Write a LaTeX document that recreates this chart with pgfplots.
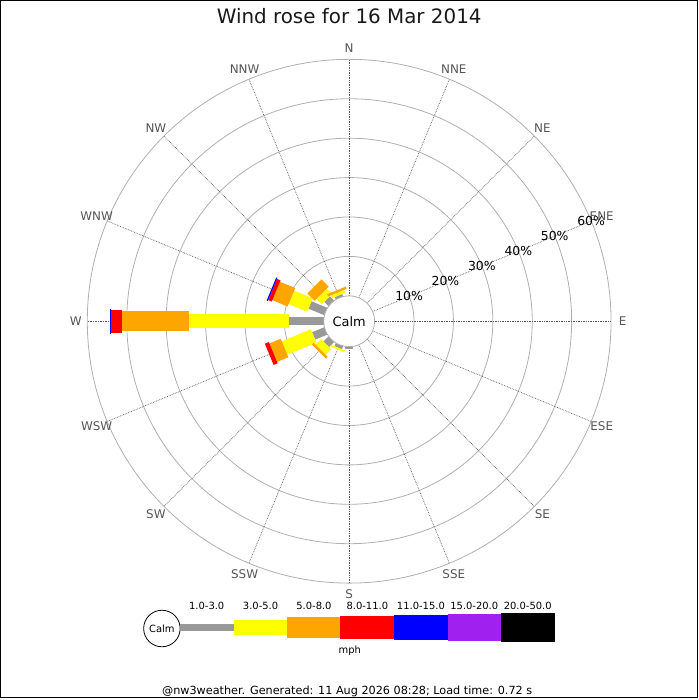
\documentclass[border=0pt]{standalone}
\usepackage{pgfplots}
\pgfplotsset{compat=1.18}
\usepackage{pgfplotstable}
\usepackage{fontspec}
\setmainfont{DejaVu Sans}
\definecolor{cgray}{RGB}{153,153,153}
\definecolor{cyellow}{RGB}{255,255,0}
\definecolor{corange}{RGB}{255,165,0}
\definecolor{cred}{RGB}{255,0,0}
\definecolor{cblue}{RGB}{0,0,255}
\definecolor{cpurple}{RGB}{160,32,240}
\definecolor{ringc}{RGB}{175,175,175}
\definecolor{labc}{RGB}{85,85,85}

% bearing (deg from N, clockwise), cumulative percent start/end
\pgfplotstableread{
b lo hi
180 0 0.7
202.5 0 0.8
225 0 1.8
247.5 0 3.3
270 0 8.7
292.5 0 4.3
315 0 1.5
337.5 0 0.6
}\tgray
\pgfplotstableread{
b lo hi
202.5 0.8 1.3
225 1.8 3.8
247.5 3.3 11.3
270 8.7 34.2
292.5 4.3 9.4
315 1.5 3.4
337.5 0.6 1.4
}\tyellow
\pgfplotstableread{
b lo hi
225 3.8 4.4
247.5 11.3 14.4
270 34.2 51.2
292.5 9.4 13.6
315 3.4 6.0
337.5 1.4 2.0
}\torange
\pgfplotstableread{
b lo hi
247.5 14.4 15.5
270 51.2 54.0
292.5 13.6 14.6
}\tred
\pgfplotstableread{
b lo hi
270 54.0 54.3
292.5 14.6 14.9
}\tblue

\pgfplotsset{
  seg/.style={
    -, mark=none,
    quiver={
      u={3.95*(\thisrow{hi}-\thisrow{lo})*sin(\thisrow{b})},
      v={3.95*(\thisrow{hi}-\thisrow{lo})*cos(\thisrow{b})},
    },
  },
}
\newcommand\segplot[3]{%
  \addplot[seg, draw=#1, line width=#2]
    table[x expr={(25.5+3.95*\thisrow{lo})*sin(\thisrow{b})},
          y expr={(25.5+3.95*\thisrow{lo})*cos(\thisrow{b})}] {#3};}
\newcommand\dirline[1]{\draw[black!65, densely dotted, line width=0.7bp] (axis cs:0,0) ++(90-#1:25.5bp) -- ++(90-#1:237bp);}
\newcommand\dirlab[2]{\node[labc, font=\fontsize{12}{14}\selectfont] at (axis cs:{274*sin(#1)},{274*cos(#1)}) {#2};}
\newcommand\pctlab[2]{\node[black, font=\fontsize{12.5}{14}\selectfont] at (axis cs:{#1*0.92388},{#1*0.38268}) {#2};}

\begin{document}
\begin{tikzpicture}
\begin{axis}[
  hide axis,
  scale only axis,
  x=1bp, y=1bp,
  xmin=-350, xmax=350, ymin=-378, ymax=322,
  clip=false,
]
% rings
\draw[ringc, line width=0.8bp] (axis cs:0,0) circle[radius=65bp];
\draw[ringc, line width=0.8bp] (axis cs:0,0) circle[radius=104.5bp];
\draw[ringc, line width=0.8bp] (axis cs:0,0) circle[radius=144bp];
\draw[ringc, line width=0.8bp] (axis cs:0,0) circle[radius=183.5bp];
\draw[ringc, line width=0.8bp] (axis cs:0,0) circle[radius=223bp];
\draw[ringc, line width=0.8bp] (axis cs:0,0) circle[radius=262.5bp];
% direction lines
\dirline{0}\dirline{22.5}\dirline{45}\dirline{67.5}
\dirline{90}\dirline{112.5}\dirline{135}\dirline{157.5}
\dirline{180}\dirline{202.5}\dirline{225}\dirline{247.5}
\dirline{270}\dirline{292.5}\dirline{315}\dirline{337.5}
% direction labels
\dirlab{0}{N}\dirlab{22.5}{NNE}\dirlab{45}{NE}\dirlab{67.5}{ENE}
\dirlab{90}{E}\dirlab{112.5}{ESE}\dirlab{135}{SE}\dirlab{157.5}{SSE}
\dirlab{180}{S}\dirlab{202.5}{SSW}\dirlab{225}{SW}\dirlab{247.5}{WSW}
\dirlab{270}{W}\dirlab{292.5}{WNW}\dirlab{315}{NW}\dirlab{337.5}{NNW}
% percent labels
\pctlab{65}{10\%}\pctlab{104.5}{20\%}\pctlab{144}{30\%}
\pctlab{183.5}{40\%}\pctlab{223}{50\%}\pctlab{262.5}{60\%}

% bars
\segplot{cgray}{8bp}{\tgray}
\segplot{cyellow}{14.5bp}{\tyellow}
\segplot{corange}{20bp}{\torange}
\segplot{cred}{23bp}{\tred}
\segplot{cblue}{25bp}{\tblue}

% calm circle
\draw[ringc, fill=white, line width=0.8bp] (axis cs:0,0) circle[radius=25.5bp];
\node[font=\fontsize{13}{15}\selectfont] at (axis cs:0,0) {Calm};

% title
\node[anchor=base, font=\fontsize{20}{24}\selectfont, text=black!90] at (axis cs:0,298) {Wind rose for 16 Mar 2014};

% legend
\draw[black, line width=0.8bp] (axis cs:-187.7,-308) circle[radius=18.3bp];
\node[font=\fontsize{10}{12}\selectfont] at (axis cs:-187.7,-308) {Calm};
\fill[cgray]   (axis cs:-170,-310.85) rectangle (axis cs:-115.7,-303.15);
\fill[cyellow] (axis cs:-115.7,-314.15) rectangle (axis cs:-62,-299.85);
\fill[corange] (axis cs:-62,-317.15) rectangle (axis cs:-8.7,-296.85);
\fill[cred]    (axis cs:-8.7,-318.5) rectangle (axis cs:45,-295.5);
\fill[cblue]   (axis cs:45,-319.5) rectangle (axis cs:98.7,-294.5);
\fill[cpurple] (axis cs:98.7,-320.5) rectangle (axis cs:152,-293.5);
\fill[black]   (axis cs:152,-321.35) rectangle (axis cs:206,-292.65);
\node[anchor=base, font=\fontsize{10}{12}\selectfont] at (axis cs:-142.8,-288.7) {1.0-3.0};
\node[anchor=base, font=\fontsize{10}{12}\selectfont] at (axis cs:-88.8,-288.7) {3.0-5.0};
\node[anchor=base, font=\fontsize{10}{12}\selectfont] at (axis cs:-35.3,-288.7) {5.0-8.0};
\node[anchor=base, font=\fontsize{10}{12}\selectfont] at (axis cs:18.2,-288.7) {8.0-11.0};
\node[anchor=base, font=\fontsize{10}{12}\selectfont] at (axis cs:71.9,-288.7) {11.0-15.0};
\node[anchor=base, font=\fontsize{10}{12}\selectfont] at (axis cs:125.4,-288.7) {15.0-20.0};
\node[anchor=base, font=\fontsize{10}{12}\selectfont] at (axis cs:179,-288.7) {20.0-50.0};
\node[anchor=base, font=\fontsize{10}{12}\selectfont] at (axis cs:0.7,-333.5) {mph};
\node[anchor=base, font=\fontsize{11.3}{13}\selectfont] at (axis cs:-2,-374) {@nw3weather. Generated: 11 Aug 2026 08:28; Load time: 0.72 s};

% frame
\draw[black, line width=1bp] (axis cs:-349.5,-377.5) rectangle (axis cs:349.5,321.5);
\end{axis}
\end{tikzpicture}
\end{document}
